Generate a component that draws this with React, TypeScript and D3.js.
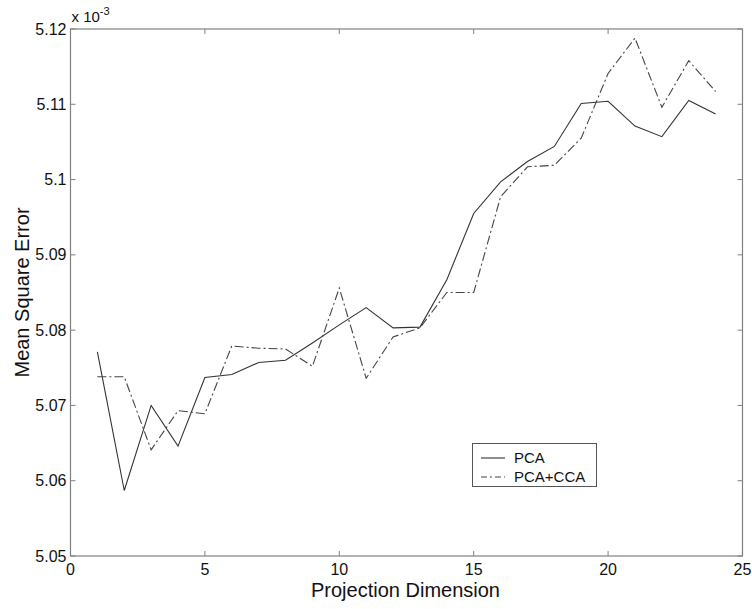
import React from "react";
import * as d3 from "d3";

const dims = [1,2,3,4,5,6,7,8,9,10,11,12,13,14,15,16,17,18,19,20,21,22,23,24];
const pca = [5.0771,5.0587,5.0700,5.0646,5.0737,5.0741,5.0757,5.0760,5.0783,5.0807,5.0830,5.0803,5.0804,5.0867,5.0955,5.0997,5.1024,5.1044,5.1101,5.1104,5.1071,5.1057,5.1105,5.1087];
const pcaCca = [5.0738,5.0738,5.0641,5.0693,5.0689,5.0779,5.0776,5.0775,5.0752,5.0856,5.0736,5.0791,5.0803,5.0850,5.0850,5.0977,5.1017,5.1019,5.1055,5.1141,5.1188,5.1096,5.1158,5.1117];
const xTicks = [0,5,10,15,20,25];
const yTicks = [5.05,5.06,5.07,5.08,5.09,5.10,5.11,5.12];
const yTickLabels = ["5.05","5.06","5.07","5.08","5.09","5.1","5.11","5.12"];
const seriesNames = ["PCA","PCA+CCA"];

export default function App() {
  const W = 752, H = 609;
  const L = 70.5, R = 742.5, T = 29, B = 556;
  const x = d3.scaleLinear().domain([0,25]).range([L,R]);
  const y = d3.scaleLinear().domain([5.05,5.12]).range([B,T]);
  const line = d3.line<number>().x((_, i) => x(dims[i])).y(d => y(d));
  const font = "Arial, 'Liberation Sans', sans-serif";
  const axisCol = "#808080";
  const tl = 5;
  return (
    <svg width={W} height={H} style={{position:"absolute",left:0,top:0,background:"#fff"}} fontFamily={font}>
      <rect x={0} y={0} width={W} height={H} fill="#fff" />
      <rect x={L} y={T} width={R-L} height={B-T} fill="none" stroke={axisCol} strokeWidth={1.2} />
      {xTicks.map(t => (
        <g key={"x"+t}>
          <line x1={x(t)} x2={x(t)} y1={B} y2={B-tl} stroke={axisCol} />
          <line x1={x(t)} x2={x(t)} y1={T} y2={T+tl} stroke={axisCol} />
          <text x={x(t)} y={B+19} textAnchor="middle" fontSize={16} fill="#111">{t}</text>
        </g>
      ))}
      {yTicks.map((t, i) => (
        <g key={"y"+t}>
          <line x1={L} x2={L+tl} y1={y(t)} y2={y(t)} stroke={axisCol} />
          <line x1={R} x2={R-tl} y1={y(t)} y2={y(t)} stroke={axisCol} />
          <text x={L-4} y={y(t)+5.5} textAnchor="end" fontSize={16} fill="#111">{yTickLabels[i]}</text>
        </g>
      ))}
      <text x={L+1} y={22} fontSize={15} fill="#111">x 10<tspan dy={-7} fontSize={11}>-3</tspan></text>
      <text x={405.5} y={597} textAnchor="middle" fontSize={20} fill="#111">Projection Dimension</text>
      <text transform={`translate(29,${(T+B)/2}) rotate(-90)`} textAnchor="middle" fontSize={20} fill="#111">Mean Square Error</text>
      <path d={line(pca) || ""} fill="none" stroke="#333" strokeWidth={1.1} />
      <path d={line(pcaCca) || ""} fill="none" stroke="#444" strokeWidth={1.1} strokeDasharray="9,3,2,3" />
      <rect x={472.5} y={443.5} width={124} height={43} fill="#fff" stroke="#555" strokeWidth={1} />
      <line x1={481} x2={505} y1={458} y2={458} stroke="#333" strokeWidth={1.1} />
      <line x1={481} x2={505} y1={477} y2={477} stroke="#444" strokeWidth={1.1} strokeDasharray="6,3,2,3" />
      <text x={514} y={463} fontSize={15} fill="#111">{seriesNames[0]}</text>
      <text x={514} y={482} fontSize={15} fill="#111">{seriesNames[1]}</text>
    </svg>
  );
}
